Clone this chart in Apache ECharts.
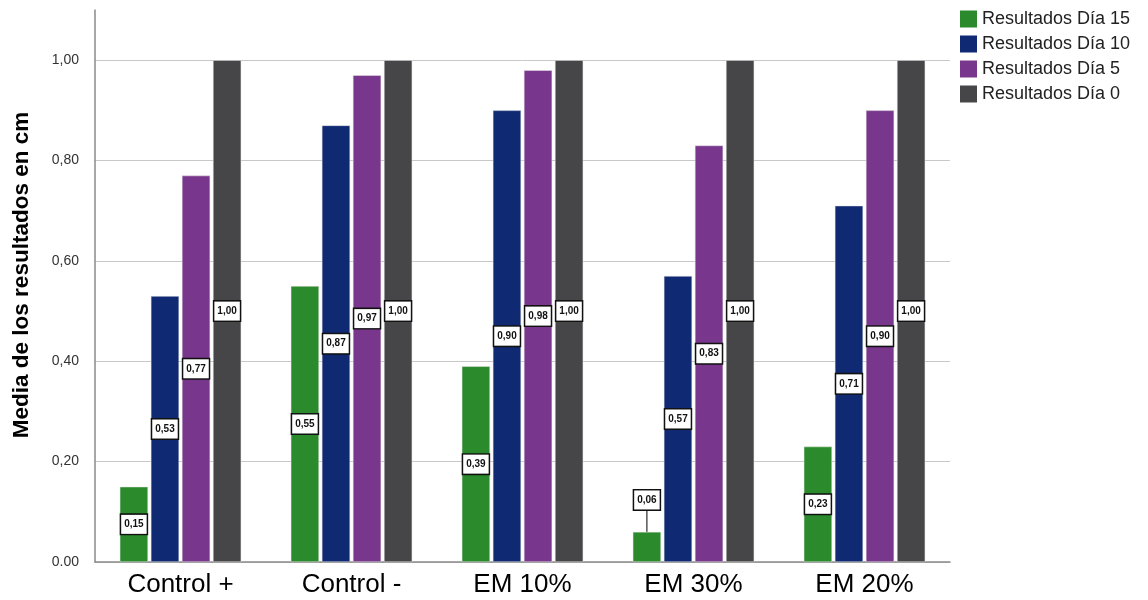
<!DOCTYPE html>
<html>
<head>
<meta charset="utf-8">
<script src="https://cdn.jsdelivr.net/npm/echarts@6/dist/echarts.min.js"></script>
<style>
  html, body { margin: 0; padding: 0; background: #fff; }
  #container { width: 1148px; height: 600px; }
</style>
</head>
<body>
<div id="container"></div>
<script>
var categories = ['Control +', 'Control -', 'EM 10%', 'EM 30%', 'EM 20%'];
var seriesNames = ['Resultados Día 15', 'Resultados Día 10', 'Resultados Día 5', 'Resultados Día 0'];
var dia15 = [0.15, 0.55, 0.39, 0.06, 0.23];
var dia10 = [0.53, 0.87, 0.90, 0.57, 0.71];
var dia5 = [0.77, 0.97, 0.98, 0.83, 0.90];
var dia0 = [1.00, 1.00, 1.00, 1.00, 1.00];
var colors = ['#2b8a2b', '#0f2a72', '#78368c', '#464648'];

function fmt(v) {
    return v.toFixed(2).replace('.', ',');
}

// etiqueta en caja blanca con borde negro, en el centro de la barra
var boxLabel = {
    show: true,
    position: 'inside',
    formatter: function (p) { return fmt(p.value); },
    backgroundColor: '#fff',
    borderColor: '#111',
    borderWidth: 1.5,
    padding: [5, 3, 4, 3],
    color: '#111',
    fontFamily: 'Liberation Sans',
    fontWeight: 'bold',
    fontSize: 10
};

function makeSeries(name, values, color) {
    return {
        name: name,
        type: 'bar',
        data: values.map(function (v) {
            var item = { value: v };
            // barras muy cortas: etiqueta por encima con línea
            if (v < 0.1) {
                item.labelLine = { show: true, lineStyle: { color: '#000', width: 1 } };
            }
            return item;
        }),
        barGap: '10%',
        barCategoryGap: '29%',
        itemStyle: { color: color, borderColor: '#e6e6e6', borderWidth: 0.5 },
        label: boxLabel,
        labelLayout: function (params) {
            if (values[params.dataIndex] < 0.1) {
                return { dy: -47 };
            }
            return {};
        }
    };
}

var dom = document.getElementById('container');
var myChart = echarts.init(dom);

var option = {
    animation: false,
    color: colors,
    grid: { left: 95, right: 198, top: 10, bottom: 38 },
    legend: {
        data: seriesNames,
        orient: 'vertical',
        left: 955,
        top: 5,
        icon: 'rect',
        itemWidth: 17,
        itemHeight: 17,
        itemGap: 7,
        itemStyle: { borderWidth: 0 },
        textStyle: { fontFamily: 'Liberation Sans', fontSize: 18, color: '#222' }
    },
    xAxis: {
        type: 'category',
        data: categories,
        axisLine: { lineStyle: { color: '#8a8a8a', width: 1.5 } },
        axisTick: { show: false },
        axisLabel: { fontFamily: 'Liberation Sans', fontSize: 26, color: '#000', margin: 10 }
    },
    yAxis: {
        type: 'value',
        min: 0,
        max: 1.1,
        interval: 0.2,
        name: 'Media de los resultados en cm',
        nameLocation: 'middle',
        nameGap: 62,
        nameTextStyle: {
            fontFamily: 'Liberation Sans', fontSize: 22.5, fontWeight: 'bold', color: '#000',
            padding: [0, 0, 0, 22]
        },
        axisLine: { show: true, lineStyle: { color: '#8a8a8a', width: 1.5 } },
        axisTick: { show: false },
        axisLabel: {
            fontFamily: 'Liberation Sans',
            fontSize: 14,
            color: '#333',
            margin: 16,
            showMaxLabel: false,
            formatter: function (v) { return v === 0 ? '0.00' : fmt(v); }
        },
        splitLine: { show: true, showMaxLine: false, lineStyle: { color: '#c8c8c8', width: 1 } }
    },
    series: [
        makeSeries(seriesNames[0], dia15, colors[0]),
        makeSeries(seriesNames[1], dia10, colors[1]),
        makeSeries(seriesNames[2], dia5, colors[2]),
        makeSeries(seriesNames[3], dia0, colors[3])
    ]
};

myChart.setOption(option);
</script>
</body>
</html>
